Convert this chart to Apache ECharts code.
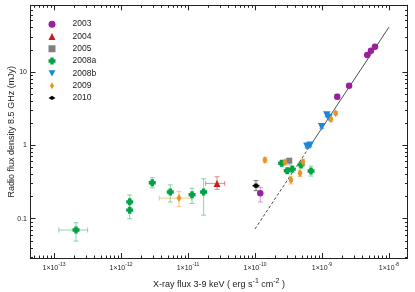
<!DOCTYPE html>
<html><head><meta charset="utf-8">
<script src="https://cdn.jsdelivr.net/npm/echarts@6/dist/echarts.min.js"></script>
<style>html,body{margin:0;padding:0;background:#fff}#c{width:415px;height:292px}</style>
</head><body><div id="c"></div><script>
// [x, y, xLow, xHigh, yLow, yHigh]  (X-ray flux erg/s/cm2, radio flux mJy)
const s2003 = [
  [1.20e-10, 0.222, 1.15e-10, 1.25e-10, 0.169, 0.268],
  [1.69e-9, 4.59, 1.58e-9, 1.80e-9, 4.25, 4.95],
  [2.54e-9, 6.49, 2.45e-9, 2.63e-9, 6.15, 6.85],
  [4.74e-9, 17.0, 4.55e-9, 4.93e-9, 16.2, 17.8],
  [5.38e-9, 19.4, 5.20e-9, 5.56e-9, 18.5, 20.3],
  [6.18e-9, 22.0, 5.98e-9, 6.38e-9, 21.0, 23.0]
];
const s2004 = [
  [2.71e-11, 0.303, 1.84e-11, 3.53e-11, 0.251, 0.373]
];
const s2005 = [
  [3.25e-10, 0.617, 3.05e-10, 3.45e-10, 0.540, 0.665]
];
const s2008a = [
  [2.13e-13, 0.0702, 1.18e-13, 3.18e-13, 0.0497, 0.0882],
  [1.35e-12, 0.170, 1.30e-12, 1.40e-12, 0.140, 0.211],
  [1.35e-12, 0.131, 1.30e-12, 1.40e-12, 0.100, 0.160],
  [2.93e-12, 0.309, 2.80e-12, 3.06e-12, 0.264, 0.362],
  [5.44e-12, 0.231, 5.20e-12, 5.68e-12, 0.169, 0.290],
  [1.15e-11, 0.212, 1.10e-11, 1.20e-11, 0.162, 0.260],
  [1.71e-11, 0.231, 1.64e-11, 1.78e-11, 0.112, 0.351],
  [2.50e-10, 0.569, 2.38e-10, 2.62e-10, 0.525, 0.615],
  [3.03e-10, 0.451, 2.90e-10, 3.16e-10, 0.415, 0.490],
  [3.60e-10, 0.475, 3.45e-10, 3.75e-10, 0.435, 0.515],
  [4.86e-10, 0.541, 4.65e-10, 5.07e-10, 0.495, 0.590],
  [6.86e-10, 0.447, 6.55e-10, 7.17e-10, 0.381, 0.523]
];
const s2008b = [
  [5.97e-10, 0.97, 5.70e-10, 6.24e-10, 0.92, 1.02],
  [6.62e-10, 1.00, 6.35e-10, 6.90e-10, 0.95, 1.05],
  [9.90e-10, 1.79, 9.45e-10, 1.035e-9, 1.70, 1.88],
  [1.18e-9, 2.59, 1.13e-9, 1.23e-9, 2.46, 2.72],
  [1.27e-9, 2.39, 1.22e-9, 1.32e-9, 2.27, 2.51]
];
const s2009 = [
  [7.34e-12, 0.191, 3.73e-12, 1.13e-11, 0.146, 0.236],
  [1.41e-10, 0.631, 1.33e-10, 1.49e-10, 0.580, 0.685],
  [2.80e-10, 0.586, 2.65e-10, 2.95e-10, 0.540, 0.635],
  [3.44e-10, 0.337, 3.28e-10, 3.60e-10, 0.297, 0.381],
  [4.70e-10, 0.416, 4.48e-10, 4.92e-10, 0.375, 0.460],
  [5.20e-10, 0.592, 4.95e-10, 5.45e-10, 0.540, 0.645],
  [1.36e-9, 2.26, 1.30e-9, 1.42e-9, 2.14, 2.38],
  [1.60e-9, 2.73, 1.52e-9, 1.68e-9, 2.58, 2.88]
];
const s2010 = [
  [1.035e-10, 0.282, 0.99e-10, 1.08e-10, 0.241, 0.330]
];
// correlation line: dashed (extrapolated) part and solid part
const fitDash = [[1.0e-10, 0.0724], [6.3e-10, 0.912]];
const fitSolid = [[6.3e-10, 0.912], [1.0e-8, 40.7]];

const seriesNames = ['2003', '2004', '2005', '2008a', '2008b', '2009', '2010'];
const xTickExp = [-13, -12, -11, -10, -9, -8];
const yTickVals = [0.1, 1, 10];
const yTickLabels = ['0.1', '1', '10'];
const xRange = [4.46e-14, 1.89e-8];
const yRange = [0.0292, 80.7];

// ---------- build ----------
const L = Math.log10;
const XMIN = L(xRange[0]), XMAX = L(xRange[1]);
const YMIN = L(yRange[0]), YMAX = L(yRange[1]);
function minors(lo, hi) {
  const out = [];
  for (let d = Math.floor(lo); d <= Math.ceil(hi); d++)
    for (let k = 2; k <= 9; k++) { const v = d + L(k); if (v > lo && v < hi) out.push(v); }
  return out;
}
const xMajor = xTickExp.slice();
const xMinor = minors(XMIN, XMAX);
const yMajor = yTickVals.map(L);
const yMinor = minors(YMIN, YMAX);

const colors = ['#9b209f', '#cc1c1c', '#7f7f7f', '#00a343', '#1b86d8', '#e99421', '#000000'];
const errColors = ['rgba(155,32,159,0.45)', 'rgba(204,28,28,0.5)', 'rgba(127,127,127,0.5)',
  'rgba(0,163,67,0.45)', 'rgba(27,134,216,0.45)', 'rgba(233,148,33,0.5)', 'rgba(0,0,0,0.5)'];
const symbols = ['circle', 'triangle',
  'rect',
  'path://M2.6,0 H7.4 V2.6 H10 V7.4 H7.4 V10 H2.6 V7.4 H0 V2.6 H2.6 Z',
  'path://M0,0 L10,0 L5,9 Z',
  'path://M5,0 L8,5 L5,10 L2,5 Z',
  'path://M0,5 L5,2 L10,5 L5,8 Z'];
const symSizes = [6.5, 7, 6, 7, 7.5, [5, 8], [8, 5]];
const allData = [s2003, s2004, s2005, s2008a, s2008b, s2009, s2010];

const axisColor = '#222';
function xAx(pos, ticks, len, labels) {
  return {
    type: 'value', min: XMIN, max: XMAX, position: pos,
    axisLine: { show: true, onZero: false, lineStyle: { color: axisColor, width: 1 } },
    axisTick: { show: true, inside: true, length: len, customValues: ticks, lineStyle: { color: axisColor, width: 1 } },
    axisLabel: labels ? {
      show: true, customValues: ticks, margin: 4,
      formatter: v => '{a|1×10}{b|' + Math.round(v) + '}',
      rich: {
        a: { fontFamily: 'Liberation Sans', fontSize: 7, lineHeight: 12, color: '#222' },
        b: { fontFamily: 'Liberation Sans', fontSize: 5, lineHeight: 6, verticalAlign: 'top', color: '#222' }
      }
    } : { show: false },
    splitLine: { show: false }
  };
}
function yAx(pos, ticks, len, labels) {
  return {
    type: 'value', min: YMIN, max: YMAX, position: pos,
    axisLine: { show: true, onZero: false, lineStyle: { color: axisColor, width: 1 } },
    axisTick: { show: true, inside: true, length: len, customValues: ticks, lineStyle: { color: axisColor, width: 1 } },
    axisLabel: labels ? {
      show: true, customValues: ticks, margin: 3.5,
      fontFamily: 'Liberation Sans', fontSize: 7, color: '#222',
      formatter: v => yTickLabels[yMajor.findIndex(t => Math.abs(t - v) < 1e-6)]
    } : { show: false },
    splitLine: { show: false }
  };
}
const xAxes = [xAx('bottom', xMajor, 5, true), xAx('bottom', xMinor, 2.5, false),
  xAx('top', xMajor, 5, false), xAx('top', xMinor, 2.5, false)];
Object.assign(xAxes[0], {
  name: '{t|X-ray flux 3-9 keV ( erg s}{s|-1}{t| cm}{s|-2}{t| )}',
  nameLocation: 'middle', nameGap: 20, nameMoveOverlap: false,
  nameTextStyle: { rich: {
    t: { fontFamily: 'Liberation Sans', fontSize: 9, lineHeight: 14, color: '#222' },
    s: { fontFamily: 'Liberation Sans', fontSize: 7, lineHeight: 9, verticalAlign: 'top', color: '#222' }
  } }
});
const yAxes = [yAx('left', yMajor, 5, true), yAx('left', yMinor, 2.5, false),
  yAx('right', yMajor, 5, false), yAx('right', yMinor, 2.5, false)];
Object.assign(yAxes[0], {
  name: 'Radio flux density 8.5 GHz (mJy)', nameLocation: 'middle', nameGap: 14, nameMoveOverlap: false,
  nameTextStyle: { fontFamily: 'Liberation Sans', fontSize: 9, color: '#222' }
});

function errRender(color) {
  return function (params, api) {
    const x = api.value(0), y = api.value(1);
    const pl = api.coord([api.value(2), y]), ph = api.coord([api.value(3), y]);
    const pb = api.coord([x, api.value(4)]), pt = api.coord([x, api.value(5)]);
    const cap = 2.5;
    const st = { stroke: color, lineWidth: 1, fill: null };
    const ln = (x1, y1, x2, y2) => ({ type: 'line', shape: { x1, y1, x2, y2 }, style: st });
    return { type: 'group', children: [
      ln(pl[0], pl[1], ph[0], ph[1]),
      ln(pb[0], pb[1], pt[0], pt[1]),
      ln(pl[0], pl[1] - cap, pl[0], pl[1] + cap),
      ln(ph[0], ph[1] - cap, ph[0], ph[1] + cap),
      ln(pb[0] - cap, pb[1], pb[0] + cap, pb[1]),
      ln(pt[0] - cap, pt[1], pt[0] + cap, pt[1])
    ] };
  };
}

const series = [];
series.push({ type: 'line', name: 'fitd', data: fitDash.map(p => [L(p[0]), L(p[1])]),
  symbol: 'none', silent: true, z: 1, lineStyle: { color: '#222', width: 0.8, type: [3, 2] } });
series.push({ type: 'line', name: 'fits', data: fitSolid.map(p => [L(p[0]), L(p[1])]),
  symbol: 'none', silent: true, z: 1, lineStyle: { color: '#222', width: 0.8 } });
allData.forEach((arr, i) => {
  series.push({ type: 'custom', name: 'err' + i, renderItem: errRender(errColors[i]), silent: true, z: 2,
    encode: { x: [0, 2, 3], y: [1, 4, 5] },
    data: arr.map(r => r.map(L)) });
});
allData.forEach((arr, i) => {
  series.push({ type: 'scatter', name: seriesNames[i], symbol: symbols[i], symbolSize: symSizes[i], z: 3,
    itemStyle: { color: colors[i], opacity: 1 },
    data: arr.map(r => [L(r[0]), L(r[1])]) });
});

const chart = echarts.init(document.getElementById('c'), null, { renderer: 'canvas' });
chart.setOption({
  animation: false,
  backgroundColor: '#fff',
  grid: { left: 30.5, right: 7.5, top: 5.3, bottom: 34, containLabel: false, outerBoundsMode: 'none' },
  legend: {
    data: seriesNames, orient: 'vertical', left: 48.5, top: 18, padding: 0,
    itemWidth: 7, itemHeight: 7, itemGap: 0, selectedMode: false, symbolKeepAspect: true,
    textStyle: { fontFamily: 'Liberation Sans', fontSize: 8.5, lineHeight: 12.3, color: '#222', padding: [0, 0, 0, 12] }
  },
  xAxis: xAxes,
  yAxis: yAxes,
  series: series
});
</script></body></html>
